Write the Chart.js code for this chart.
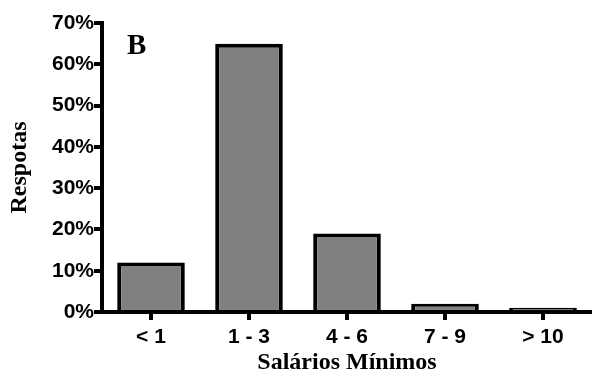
<!DOCTYPE html>
<html>
<head>
<meta charset="utf-8">
<script src="https://cdn.jsdelivr.net/npm/chart.js@4.4.0/dist/chart.umd.min.js"></script>
<style>
  html, body { margin:0; padding:0; background:#fff; }
  #wrap { width:592px; height:378px; }
</style>
</head>
<body>
<div id="wrap"><canvas id="c" width="592" height="378"></canvas></div>
<script>
// values (percent of answers)
const categories = ['< 1', '1 - 3', '4 - 6', '7 - 9', '> 10'];
const respostas = [12, 65, 19, 2, 1];
const yTicks = [0, 10, 20, 30, 40, 50, 60, 70];

const panelLabel = {
  id: 'panelLabel',
  afterDraw(chart) {
    const ctx = chart.ctx;
    const a = chart.chartArea;
    ctx.save();
    ctx.font = 'bold 29px "Liberation Serif"';
    ctx.fillStyle = '#000';
    ctx.textBaseline = 'alphabetic';
    ctx.fillText('B', a.left + 25, a.top + 31);
    ctx.restore();
  }
};

const tickFont = { family: '"Liberation Sans"', weight: 'bold', size: 21 };
const titleFont = { family: '"Liberation Serif"', weight: 'bold', size: 24 };

new Chart(document.getElementById('c'), {
  type: 'bar',
  data: {
    labels: categories,
    datasets: [{
      data: respostas,
      backgroundColor: '#808080',
      borderColor: '#000',
      borderWidth: 4,
      borderSkipped: 'start',
      categoryPercentage: 1,
      barPercentage: 0.69
    }]
  },
  options: {
    responsive: false,
    animation: false,
    layout: { padding: { top: 23, right: 0, left: 0, bottom: 0 } },
    plugins: { legend: { display: false }, tooltip: { enabled: false } },
    scales: {
      x: {
        grid: { offset: false, drawOnChartArea: false, drawTicks: true, tickLength: 8, lineWidth: 4, color: '#000' },
        border: { display: true, width: 4, color: '#000' },
        ticks: { color: '#000', font: tickFont, padding: 5, maxRotation: 0 },
        title: { display: true, text: 'Salários Mínimos', color: '#000', font: titleFont, padding: { top: 6, bottom: 1 } },
        afterFit(s) { s.height = 66; }
      },
      y: {
        min: 0, max: 70,
        afterBuildTicks(s) { s.ticks = yTicks.map(v => ({ value: v })); },
        grid: { drawOnChartArea: false, drawTicks: true, tickLength: 8, lineWidth: 4, color: '#000' },
        border: { display: true, width: 4, color: '#000' },
        ticks: { color: '#000', font: tickFont, padding: 0, callback: v => v + '%' },
        title: { display: true, text: 'Respotas', color: '#000', font: titleFont, padding: { top: 5, bottom: 4 } },
        afterFit(s) { s.width = 102; }
      }
    }
  },
  plugins: [panelLabel]
});
</script>
</body>
</html>
